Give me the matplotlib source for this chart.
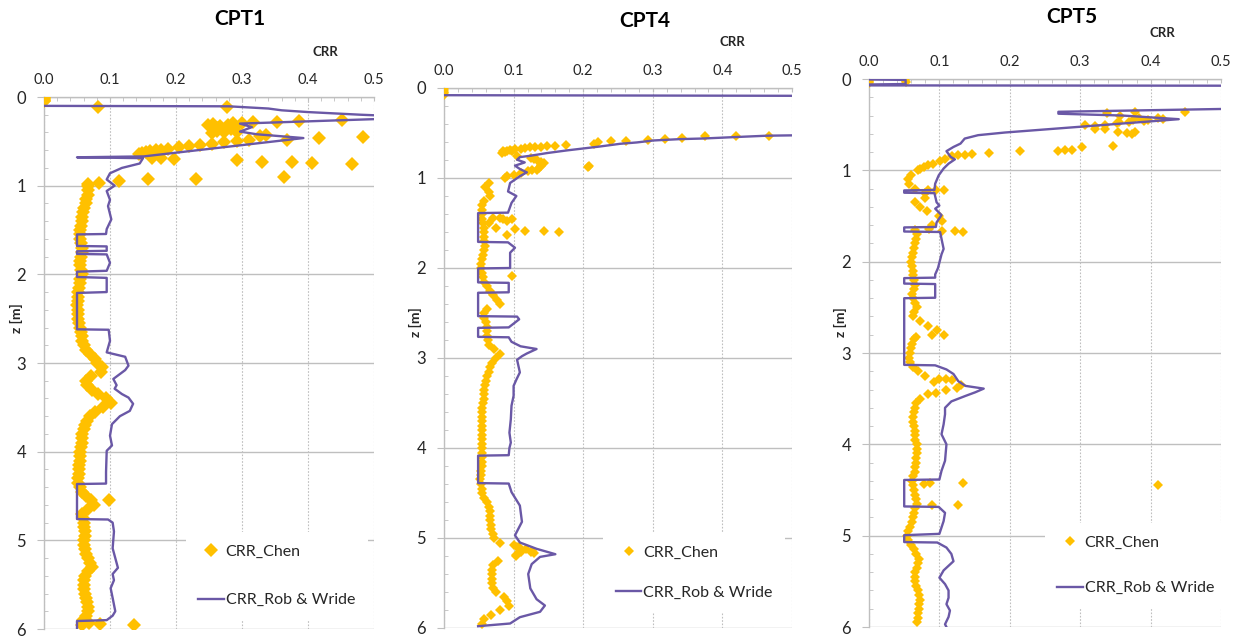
import numpy as np
import matplotlib.pyplot as plt
from matplotlib.ticker import MultipleLocator, FormatStrFormatter

plt.rcParams['font.family'] = ['Lato', 'DejaVu Sans']

GOLD = '#FFC000'
PURPLE = '#6A58A6'
GRID = '#BFBFBF'
TXT = '#262626'

# ---------------- CPT1 ----------------
# Chen: scattered points near the surface (z [m], CRR)
cpt1_sc_z = [0.00, 0.01, 0.02, 0.03, 0.04, 0.05, 0.11, 0.11,
             0.315, 0.407, 0.326, 0.39, 0.315, 0.363, 0.296, 0.40, 0.289, 0.285, 0.278, 0.27, 0.259,
             0.35, 0.37, 0.34, 0.38, 0.30, 0.34,
             0.455, 0.467, 0.489, 0.426, 0.444, 0.489, 0.50, 0.51, 0.526, 0.537, 0.548, 0.563,
             0.585, 0.593, 0.60, 0.611, 0.622, 0.63, 0.648, 0.685, 0.685, 0.704, 0.711, 0.73,
             0.73, 0.748, 0.756, 0.907, 0.926, 0.926, 0.944, 0.97, 0.98,
             4.54, 5.93, 5.94, 5.95]
cpt1_sc_crr = [0.0, 0.0, 0.0, 0.0, 0.0, 0.0, 0.082, 0.277,
               0.249, 0.254, 0.267, 0.272, 0.279, 0.284, 0.287, 0.292, 0.30, 0.317, 0.353, 0.387, 0.452,
               0.262, 0.276, 0.29, 0.262, 0.256, 0.258,
               0.483, 0.417, 0.368, 0.337, 0.327, 0.311, 0.292, 0.272, 0.254, 0.236, 0.22, 0.205,
               0.188, 0.178, 0.17, 0.161, 0.155, 0.148, 0.144, 0.163, 0.178, 0.197, 0.293, 0.33,
               0.375, 0.406, 0.466, 0.364, 0.23, 0.157, 0.114, 0.084, 0.067,
               0.098, 0.068, 0.085, 0.136]
# Chen: continuous profile, every 0.05 m from 1.00 m
cpt1_band_crr = [0.066, 0.067, 0.066, 0.064, 0.063, 0.061, 0.059, 0.058, 0.057, 0.056,
                 0.055, 0.055, 0.054, 0.056, 0.058, 0.057, 0.056, 0.055, 0.054, 0.056,
                 0.057, 0.055, 0.054, 0.053, 0.052, 0.051, 0.051, 0.050, 0.051, 0.051,
                 0.052, 0.053, 0.055, 0.056, 0.057, 0.058, 0.060, 0.064, 0.070, 0.077,
                 0.081, 0.088, 0.086, 0.071, 0.063, 0.065, 0.073, 0.082, 0.094, 0.101,
                 0.089, 0.077, 0.069, 0.065, 0.062, 0.060, 0.058, 0.057, 0.058, 0.056,
                 0.055, 0.054, 0.054, 0.053, 0.053, 0.053, 0.052, 0.052, 0.054, 0.058,
                 0.064, 0.071, 0.076, 0.066, 0.058, 0.059, 0.060, 0.061, 0.062, 0.062,
                 0.061, 0.060, 0.062, 0.064, 0.066, 0.069, 0.072, 0.066, 0.062, 0.061,
                 0.060, 0.061, 0.062, 0.064, 0.065, 0.067, 0.066, 0.064, 0.059, 0.058]
# Robertson & Wride
cpt1_rw_z = [0.10, 0.105, 0.13, 0.15, 0.17, 0.20, 0.23, 0.30, 0.34, 0.39, 0.42, 0.463, 0.67, 0.68, 0.69,
             0.75, 0.80, 0.86, 0.93, 1.0, 1.06, 1.16, 1.23, 1.38, 1.49, 1.545, 1.55, 1.68, 1.685,
             1.735, 1.74, 1.77, 1.775, 1.87, 1.96, 1.97, 2.03, 2.04, 2.2, 2.21, 2.62, 2.625, 2.75,
             2.88, 2.93, 3.03, 3.08, 3.18, 3.25, 3.29, 3.35, 3.39, 3.46, 3.54, 3.6, 3.69, 3.82,
             3.93, 3.99, 4.23, 4.36, 4.365, 4.76, 4.765, 4.8, 4.9, 5.09, 5.2, 5.31, 5.38, 5.45,
             5.54, 5.65, 5.8, 5.85, 5.9, 5.91, 6.0]
cpt1_rw_crr = [0.0, 0.28, 0.34, 0.36, 0.40, 0.48, 0.58, 0.297, 0.315, 0.297, 0.322, 0.393, 0.151, 0.05, 0.15,
               0.145, 0.118, 0.10, 0.095, 0.107, 0.095, 0.10, 0.097, 0.102, 0.095, 0.094, 0.05, 0.05, 0.095,
               0.095, 0.05, 0.05, 0.095, 0.10, 0.095, 0.05, 0.05, 0.095, 0.095, 0.05, 0.05, 0.098, 0.10,
               0.095, 0.123, 0.128, 0.123, 0.105, 0.11, 0.107, 0.118, 0.128, 0.135, 0.13, 0.115, 0.103, 0.10,
               0.103, 0.095, 0.094, 0.094, 0.05, 0.05, 0.097, 0.104, 0.106, 0.104, 0.108, 0.112, 0.104, 0.106,
               0.101, 0.104, 0.108, 0.104, 0.095, 0.05, 0.05]

# ---------------- CPT4 ----------------
cpt4_sc_z = [0.00, 0.02, 0.04, 0.06, 0.08,
             0.53, 0.537, 0.537, 0.555, 0.567, 0.574, 0.585, 0.593, 0.60, 0.618,
             0.633, 0.64, 0.648, 0.655, 0.66, 0.66, 0.67, 0.675, 0.68, 0.69, 0.70, 0.695, 0.705, 0.72, 0.715,
             0.79, 0.80, 0.82, 0.83, 0.85, 0.87, 0.89, 0.907, 0.915, 0.926, 0.87, 0.88, 0.78, 0.76,
             0.944, 0.963, 0.98,
             1.444, 1.44, 1.46, 1.46, 1.57, 1.59, 1.59, 1.60, 1.63, 1.55, 1.50, 1.48,
             2.09, 5.08, 5.10, 5.12, 5.14, 5.17, 5.19, 5.16]
cpt4_sc_crr = [0.0, 0.0, 0.0, 0.0, 0.0,
               0.467, 0.419, 0.375, 0.342, 0.317, 0.293, 0.262, 0.24, 0.221, 0.216,
               0.175, 0.16, 0.148, 0.139, 0.131, 0.124, 0.117, 0.11, 0.102, 0.095, 0.09, 0.085, 0.097, 0.083, 0.088,
               0.129, 0.133, 0.139, 0.143, 0.14, 0.14, 0.137, 0.134, 0.127, 0.12, 0.209, 0.207, 0.125, 0.105,
               0.11, 0.10, 0.09,
               0.071, 0.081, 0.085, 0.098, 0.102, 0.117, 0.143, 0.165, 0.09, 0.075, 0.065, 0.09,
               0.098, 0.10, 0.108, 0.118, 0.126, 0.129, 0.104, 0.11]
cpt4_band_crr = [0.088, 0.064, 0.059, 0.064, 0.066, 0.058, 0.055, 0.054, 0.054, 0.055,
                 0.056, 0.057, 0.057, 0.057, 0.058, 0.059, 0.058, 0.056, 0.054, 0.053,
                 0.053, 0.054, 0.056, 0.058, 0.062, 0.066, 0.071, 0.076, 0.080, 0.062,
                 0.058, 0.057, 0.060, 0.062, 0.062, 0.062, 0.063, 0.065, 0.072, 0.080,
                 0.074, 0.069, 0.066, 0.064, 0.062, 0.061, 0.059, 0.058, 0.058, 0.057,
                 0.056, 0.055, 0.054, 0.054, 0.054, 0.054, 0.054, 0.054, 0.054, 0.055,
                 0.054, 0.054, 0.054, 0.054, 0.054, 0.053, 0.053, 0.052, 0.053, 0.054,
                 0.055, 0.058, 0.062, 0.064, 0.066, 0.066, 0.066, 0.067, 0.068, 0.070,
                 0.072, 0.080, 0.105, 0.125, 0.104, 0.078, 0.071, 0.069, 0.069, 0.069,
                 0.069, 0.070, 0.075, 0.086, 0.091, 0.093, 0.081, 0.068, 0.058, 0.054]
cpt4_rw_z = [0.08, 0.09, 0.50, 0.53, 0.546, 0.561, 0.568, 0.583, 0.605, 0.62, 0.65, 0.672, 0.694, 0.723,
             0.753, 0.768, 0.797, 0.827, 0.863, 0.90, 0.937, 0.98, 1.055, 1.15, 1.2, 1.277, 1.385, 1.39,
             1.71, 1.715, 1.775, 1.83, 2.0, 2.005, 2.16, 2.165, 2.27, 2.275, 2.535, 2.54, 2.57, 2.66,
             2.665, 2.765, 2.77, 2.82, 2.87, 2.9, 2.95, 2.98, 3.02, 3.09, 3.16, 3.24, 3.31, 3.42, 3.53,
             3.68, 3.83, 3.94, 4.0, 4.08, 4.085, 4.39, 4.395, 4.49, 4.64, 4.82, 4.97, 5.05, 5.12, 5.18,
             5.21, 5.29, 5.4, 5.56, 5.68, 5.75, 5.82, 5.88, 5.95, 5.98]
cpt4_rw_crr = [0.0, 0.75, 0.75, 0.464, 0.416, 0.373, 0.339, 0.301, 0.277, 0.253, 0.224, 0.20, 0.176, 0.148,
               0.124, 0.109, 0.105, 0.116, 0.102, 0.109, 0.119, 0.109, 0.095, 0.092, 0.104, 0.097, 0.092, 0.049,
               0.049, 0.092, 0.102, 0.095, 0.095, 0.049, 0.049, 0.093, 0.093, 0.049, 0.049, 0.105, 0.108, 0.093,
               0.049, 0.049, 0.093, 0.097, 0.11, 0.133, 0.119, 0.112, 0.105, 0.107, 0.109, 0.104, 0.10, 0.10, 0.097,
               0.096, 0.094, 0.096, 0.094, 0.093, 0.049, 0.049, 0.093, 0.097, 0.109, 0.112, 0.102, 0.109, 0.133, 0.16,
               0.138, 0.126, 0.121, 0.124, 0.133, 0.145, 0.138, 0.109, 0.095, 0.049]

# ---------------- CPT5 ----------------
cpt5_sc_z = [0.0, 0.01, 0.02, 0.03, 0.04, 0.01, 0.03,
             0.366, 0.432, 0.45, 0.432, 0.359, 0.377, 0.403, 0.469, 0.475, 0.487, 0.505, 0.51, 0.505,
             0.549, 0.55, 0.579, 0.586, 0.597, 0.58, 0.45, 0.46, 0.44,
             0.733, 0.744, 0.78, 0.775, 0.791, 0.791, 0.81, 0.817, 0.828, 0.835, 0.84, 0.88, 0.9,
             0.927, 0.945, 0.96, 0.982,
             1.22, 1.22, 1.21, 1.66, 1.66, 1.68, 1.64, 2.82, 2.80, 3.28, 3.29, 3.32, 3.38,
             4.42, 4.42, 4.66, 4.66, 4.44, 4.43, 3.44]
cpt5_sc_crr = [0.0, 0.0, 0.0, 0.0, 0.0, 0.051, 0.053,
               0.449, 0.411, 0.397, 0.383, 0.378, 0.338, 0.357, 0.369, 0.355, 0.352, 0.335, 0.321, 0.307,
               0.321, 0.335, 0.354, 0.366, 0.373, 0.378, 0.375, 0.39, 0.418,
               0.347, 0.302, 0.288, 0.279, 0.269, 0.215, 0.17, 0.146, 0.136, 0.127, 0.118, 0.108, 0.101,
               0.091, 0.084, 0.078, 0.073,
               0.084, 0.106, 0.095, 0.103, 0.122, 0.134, 0.085, 0.067, 0.09, 0.10, 0.11, 0.092, 0.125,
               0.087, 0.134, 0.089, 0.127, 0.411, 0.078, 0.095]
cpt5_band_crr = [0.069, 0.059, 0.056, 0.057, 0.066, 0.080, 0.080, 0.066, 0.072, 0.083,
                 0.100, 0.103, 0.090, 0.066, 0.068, 0.067, 0.065, 0.064, 0.062, 0.061,
                 0.060, 0.061, 0.062, 0.063, 0.064, 0.065, 0.064, 0.061, 0.063, 0.066,
                 0.068, 0.064, 0.062, 0.072, 0.084, 0.096, 0.106, 0.064, 0.061, 0.059,
                 0.058, 0.057, 0.058, 0.062, 0.070, 0.080, 0.118, 0.130, 0.110, 0.084,
                 0.072, 0.067, 0.065, 0.064, 0.063, 0.063, 0.064, 0.065, 0.065, 0.066,
                 0.068, 0.068, 0.068, 0.067, 0.067, 0.066, 0.065, 0.063, 0.061, 0.062,
                 0.064, 0.065, 0.067, 0.068, 0.066, 0.064, 0.063, 0.061, 0.058, 0.056,
                 0.054, 0.055, 0.059, 0.064, 0.067, 0.071, 0.070, 0.068, 0.066, 0.065,
                 0.065, 0.067, 0.069, 0.071, 0.072, 0.071, 0.071, 0.070, 0.069, 0.068]
cpt5_rw_z = [0.005, 0.01, 0.055, 0.06, 0.07, 0.075, 0.295, 0.359, 0.38, 0.40, 0.44, 0.524, 0.586, 0.615,
             0.652, 0.707, 0.744, 0.79, 0.853, 0.88, 0.927, 0.98, 1.055, 1.146, 1.215, 1.22, 1.245, 1.25,
             1.35, 1.385, 1.42, 1.49, 1.57, 1.62, 1.625, 1.67, 1.675, 1.75, 1.86, 1.92, 2.07, 2.14, 2.175,
             2.18, 2.24, 2.245, 2.395, 2.40, 3.13, 3.135, 3.18, 3.23, 3.31, 3.36, 3.39, 3.43, 3.47, 3.53,
             3.6, 3.67, 3.78, 3.89, 4.0, 4.18, 4.29, 4.385, 4.39, 4.68, 4.685, 4.75, 4.84, 4.98, 4.995,
             5.07, 5.075, 5.13, 5.2, 5.28, 5.38, 5.46, 5.53, 5.6, 5.68, 5.75, 5.82, 5.89, 5.97, 6.0]
cpt5_rw_crr = [0.0, 0.052, 0.052, 0.0, 0.0, 0.75, 0.75, 0.269, 0.269, 0.36, 0.44, 0.298, 0.193, 0.155,
               0.136, 0.13, 0.12, 0.11, 0.116, 0.122, 0.113, 0.106, 0.099, 0.094, 0.093, 0.05, 0.05, 0.093,
               0.096, 0.10, 0.094, 0.103, 0.096, 0.095, 0.05, 0.05, 0.101, 0.103, 0.106, 0.103, 0.098, 0.094, 0.094,
               0.05, 0.05, 0.094, 0.094, 0.05, 0.05, 0.094, 0.11, 0.12, 0.127, 0.137, 0.163, 0.151, 0.137, 0.117,
               0.108, 0.108, 0.106, 0.103, 0.11, 0.108, 0.103, 0.10, 0.05, 0.05, 0.099, 0.108, 0.106, 0.10, 0.05,
               0.05, 0.097, 0.11, 0.117, 0.12, 0.106, 0.10, 0.108, 0.113, 0.113, 0.11, 0.115, 0.113, 0.108, 0.11]

W, H = 1239, 638
fig = plt.figure(figsize=(W / 100, H / 100), dpi=100)


def px(x, y):
    return x / W, 1 - y / H


def draw_panel(box, title, title_xy, crr_xy, zlab_xy, sc_z, sc_crr, band_crr, rw_z, rw_crr,
               ms, leg_anchor, leg_spacing):
    left, top, right, bottom = box
    ax = fig.add_axes([left / W, 1 - bottom / H, (right - left) / W, (bottom - top) / H])
    band_z = np.round(1.0 + 0.05 * np.arange(len(band_crr)), 2)
    z = list(sc_z) + list(band_z)
    c = list(sc_crr) + list(band_crr)
    ax.plot(c, z, ls='none', marker='D', ms=ms, color=GOLD, mec=GOLD, mew=0, label='CRR_Chen', zorder=3)
    ax.plot(rw_crr, rw_z, color=PURPLE, lw=1.7, label='CRR_Rob & Wride', zorder=4)
    ax.set_xlim(0, 0.5)
    ax.set_ylim(6, 0)

    ax.xaxis.tick_top()
    ax.xaxis.set_major_locator(MultipleLocator(0.1))
    ax.xaxis.set_minor_locator(MultipleLocator(0.02))
    ax.xaxis.set_major_formatter(FormatStrFormatter('%.1f'))
    ax.yaxis.set_major_locator(MultipleLocator(1))
    ax.yaxis.set_minor_locator(MultipleLocator(0.2))
    ax.tick_params(axis='x', which='both', top=True, bottom=False, direction='in', length=3,
                   color=GRID, labelsize=10.5, pad=7, labelcolor=TXT)
    ax.tick_params(axis='y', which='major', left=True, direction='out', length=5, color=GRID,
                   labelsize=12, pad=8, labelcolor=TXT)
    ax.tick_params(axis='y', which='minor', left=True, direction='in', length=3, color=GRID)
    for s in ['right', 'bottom']:
        ax.spines[s].set_visible(False)
    for s in ['left', 'top']:
        ax.spines[s].set_color(GRID)
        ax.spines[s].set_linewidth(1)
    ax.grid(axis='y', which='major', color=GRID, lw=1, ls='-')
    ax.grid(axis='x', which='major', color=GRID, lw=0.8, ls=(0, (1.5, 1.5)))
    ax.set_axisbelow(True)

    leg = ax.legend(loc='upper left', bbox_to_anchor=leg_anchor, frameon=True, facecolor='white',
                    edgecolor='none', framealpha=1, fancybox=False, fontsize=11.5, handlelength=1.6,
                    handletextpad=0.1, labelspacing=leg_spacing, borderpad=0.8, borderaxespad=0,
                    numpoints=1)
    for t in leg.get_texts():
        t.set_color(TXT)

    fig.text(*px(*title_xy), title, ha='center', va='center', fontsize=15, fontweight='bold', color='black')
    fig.text(*px(*crr_xy), 'CRR', ha='center', va='center', fontsize=9.5, fontweight='bold', color=TXT)
    fig.text(*px(*zlab_xy), 'z [m]', ha='center', va='center', rotation=90, fontsize=10,
             fontweight='bold', color=TXT)
    return ax


draw_panel((44, 97, 374, 629), 'CPT1', (240, 19), (325, 52), (16, 318),
           cpt1_sc_z, cpt1_sc_crr, cpt1_band_crr, cpt1_rw_z, cpt1_rw_crr,
           7.5, (0.429, 0.183), 2.15)
draw_panel((444, 88, 792, 628), 'CPT4', (645, 21), (732, 42), (415, 322),
           cpt4_sc_z, cpt4_sc_crr, cpt4_band_crr, cpt4_rw_z, cpt4_rw_crr,
           5, (0.457, 0.176), 1.6)
draw_panel((869, 79, 1221, 627), 'CPT5', (1072, 17), (1162, 33), (840, 322),
           cpt5_sc_z, cpt5_sc_crr, cpt5_band_crr, cpt5_rw_z, cpt5_rw_crr,
           5, (0.499, 0.19), 1.95)

fig.savefig('out.png', dpi=100)
